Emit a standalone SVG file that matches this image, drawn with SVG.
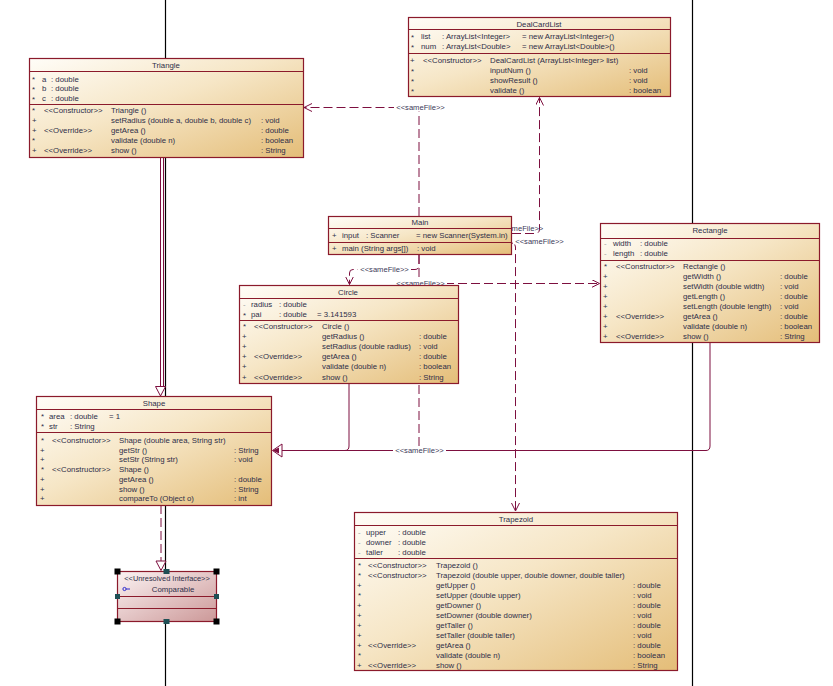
<svg xmlns="http://www.w3.org/2000/svg" width="833" height="686" viewBox="0 0 833 686">
<defs>
<linearGradient id="g" x1="0" y1="0" x2="1" y2="1">
<stop offset="0" stop-color="#fffdf8"/>
<stop offset="0.45" stop-color="#f6e6c6"/>
<stop offset="1" stop-color="#e4bd78"/>
</linearGradient>
<linearGradient id="gp" x1="0" y1="0" x2="1" y2="1">
<stop offset="0" stop-color="#fbf3f3"/>
<stop offset="1" stop-color="#cc9898"/>
</linearGradient>
<marker id="dep" markerWidth="10" markerHeight="10" refX="8" refY="4" orient="auto" markerUnits="userSpaceOnUse">
<path d="M0,0 L8,4 L0,8" fill="none" stroke="#7d0f3f" stroke-width="1"/>
</marker>
<style>
text{font-family:"Liberation Sans",Arial,sans-serif;font-size:7.8px;fill:#2e2e48}
.ttl{text-anchor:middle}
.pv{fill:#a0a0a0}
.box{fill:url(#g);stroke:#8b1a2b;stroke-width:1.2}
.sep{stroke:#8b1a2b;stroke-width:1}
.c{fill:none;stroke:#7d0f3f;stroke-width:1}
.d{stroke-dasharray:9 4}
.gen{fill:#fff;stroke:#7d0f3f;stroke-width:1}
.lb{fill:#fff}
.lt{text-anchor:middle;font-size:7.6px;fill:#3a3a58}
.guide{stroke:#000;stroke-width:1.2}
.h{fill:#000}
.hm{fill:#1f4f55}
</style>
</defs>

<g id="guides">
<line class="guide" x1="165.5" y1="0" x2="165.5" y2="686"/>
<line class="guide" x1="692.5" y1="0" x2="692.5" y2="686"/>
</g>

<g id="connectors">
<!-- Triangle -> Shape generalization -->
<line class="c" x1="160.5" y1="157" x2="160.5" y2="387"/>
<line class="c" x1="163.5" y1="157" x2="163.5" y2="387"/>
<polygon class="gen" points="155.5,386.5 165.5,386.5 160.5,396"/>
<!-- Shape -> Comparable realization -->
<line class="c d" x1="161" y1="505" x2="161" y2="561"/>
<polygon class="gen" points="156,561 166,561 161,570.5"/>
<!-- Circle / Rectangle -> Shape generalization -->
<path class="c" d="M349,383 V446 Q349,450.5 345,450.5 H282"/>
<path class="c" d="M710,342 V446 Q710,450.5 706,450.5 H282"/>
<polygon class="gen" points="282,444 282,457 272.5,450.5"/>
<path d="M279,447.5 L272.5,450.5 L279,453.5 Z" fill="#7d0f3f"/>
<!-- Main -> Shape dependency -->
<line class="c d" x1="419" y1="255" x2="419" y2="446"/>
<rect class="lb" x="393" y="446.5" width="53" height="8"/>
<text class="lt" x="419.5" y="453.2">&lt;&lt;sameFile&gt;&gt;</text>
<!-- Main -> Triangle -->
<path class="c d" d="M419,216 V107.5 H304" marker-end="url(#dep)"/>
<rect class="lb" x="394" y="103.5" width="53" height="8"/>
<text class="lt" x="420.5" y="110.2">&lt;&lt;sameFile&gt;&gt;</text>
<!-- Main -> Circle -->
<path class="c d" d="M419,255 V265 Q419,269.5 415,269.5 H353 Q349.5,269.5 349.5,273 V284.5" marker-end="url(#dep)"/>
<rect class="lb" x="358" y="265.5" width="53" height="8"/>
<text class="lt" x="384.5" y="272.2">&lt;&lt;sameFile&gt;&gt;</text>
<!-- Main -> Rectangle -->
<path class="c d" d="M419,283.5 H599.5" marker-end="url(#dep)"/>
<rect class="lb" x="394" y="279" width="53" height="6"/>
<text class="lt" x="420.5" y="285.7">&lt;&lt;sameFile&gt;&gt;</text>
<!-- Main -> DealCardList -->
<path class="c d" d="M512,233.5 H535 Q539.5,233.5 539.5,229 V97.5" marker-end="url(#dep)"/>
<text class="lt" x="519" y="230.7">&lt;&lt;sameFile&gt;&gt;</text>
<!-- Main -> Trapezoid -->
<path class="c d" d="M512,243 Q515.5,243 515.5,247 V511" marker-end="url(#dep)"/>
<rect class="lb" x="513" y="237.5" width="53" height="7"/>
<text class="lt" x="539.5" y="244">&lt;&lt;sameFile&gt;&gt;</text>
</g>

<g id="DealCardList">
<rect class="box" x="408.5" y="17.5" width="262" height="79"/>
<line class="sep" x1="408.5" y1="29.5" x2="670.5" y2="29.5"/>
<line class="sep" x1="408.5" y1="53.5" x2="670.5" y2="53.5"/>
<text class="ttl" x="539" y="26.5">DealCardList</text>
<text x="411" y="39.5">*</text><text x="421" y="39">list</text><text x="442" y="39">: ArrayList&lt;Integer&gt;</text><text x="522" y="39">= new ArrayList&lt;Integer&gt;()</text>
<text x="411" y="49.5">*</text><text x="421" y="49">num</text><text x="442" y="49">: ArrayList&lt;Double&gt;</text><text x="522" y="49">= new ArrayList&lt;Double&gt;()</text>
<text x="410" y="63">+</text><text x="423" y="63">&lt;&lt;Constructor&gt;&gt;</text><text x="490" y="63">DealCardList (ArrayList&lt;Integer&gt; list)</text>
<text x="411" y="73.5">*</text><text x="490" y="73">inputNum ()</text><text x="629" y="73">: void</text>
<text x="411" y="83.5">*</text><text x="490" y="83">showResult ()</text><text x="629" y="83">: void</text>
<text x="411" y="93.5">*</text><text x="490" y="93">validate ()</text><text x="629" y="93">: boolean</text>
</g>

<g id="Triangle">
<rect class="box" x="29.5" y="58.5" width="274" height="99"/>
<line class="sep" x1="29.5" y1="71.5" x2="303.5" y2="71.5"/>
<line class="sep" x1="29.5" y1="104.5" x2="303.5" y2="104.5"/>
<text class="ttl" x="166" y="67.5">Triangle</text>
<text x="32" y="82">*</text><text x="42" y="81.5">a</text><text x="51" y="81.5">: double</text>
<text x="32" y="91.5">*</text><text x="42" y="91">b</text><text x="51" y="91">: double</text>
<text x="32" y="101.5">*</text><text x="42" y="101">c</text><text x="51" y="101">: double</text>
<text x="32" y="113">*</text><text x="44" y="112.5">&lt;&lt;Constructor&gt;&gt;</text><text x="111" y="112.5">Triangle ()</text>
<text x="32" y="122.5">+</text><text x="111" y="122.5">setRadius (double a, double b, double c)</text><text x="261" y="122.5">: void</text>
<text x="32" y="132.5">+</text><text x="44" y="132.5">&lt;&lt;Override&gt;&gt;</text><text x="111" y="132.5">getArea ()</text><text x="261" y="132.5">: double</text>
<text x="32" y="143">*</text><text x="111" y="142.5">validate (double n)</text><text x="261" y="142.5">: boolean</text>
<text x="32" y="153">+</text><text x="44" y="153">&lt;&lt;Override&gt;&gt;</text><text x="111" y="153">show ()</text><text x="261" y="153">: String</text>
</g>

<g id="Main">
<rect class="box" x="328.5" y="216.5" width="183" height="38"/>
<line class="sep" x1="328.5" y1="228.5" x2="511.5" y2="228.5"/>
<line class="sep" x1="328.5" y1="242.5" x2="511.5" y2="242.5"/>
<text class="ttl" x="420" y="225">Main</text>
<text x="332" y="238">+</text><text x="342" y="238">input</text><text x="366" y="238">: Scanner</text><text x="416" y="238">= new Scanner(System.in)</text>
<text x="332" y="251">+</text><text x="342" y="251">main (String args[])</text><text x="417" y="251">: void</text>
</g>

<g id="Rectangle">
<rect class="box" x="600.5" y="223.5" width="219" height="119"/>
<line class="sep" x1="600.5" y1="238.5" x2="819.5" y2="238.5"/>
<line class="sep" x1="600.5" y1="260.5" x2="819.5" y2="260.5"/>
<text class="ttl" x="710" y="233">Rectangle</text>
<text class="pv" x="604" y="245.5">-</text><text x="613" y="245.5">width</text><text x="640" y="245.5">: double</text>
<text class="pv" x="604" y="255.5">-</text><text x="613" y="255.5">length</text><text x="640" y="255.5">: double</text>
<text x="604" y="269">*</text><text x="616" y="268.5">&lt;&lt;Constructor&gt;&gt;</text><text x="683" y="268.5">Rectangle ()</text>
<text x="603" y="278.5">+</text><text x="683" y="278.5">getWidth ()</text><text x="780" y="278.5">: double</text>
<text x="603" y="288.5">+</text><text x="683" y="288.5">setWidth (double width)</text><text x="780" y="288.5">: void</text>
<text x="603" y="298.5">+</text><text x="683" y="298.5">getLength ()</text><text x="780" y="298.5">: double</text>
<text x="603" y="308.5">+</text><text x="683" y="308.5">setLength (double length)</text><text x="780" y="308.5">: void</text>
<text x="603" y="318.5">+</text><text x="616" y="318.5">&lt;&lt;Override&gt;&gt;</text><text x="683" y="318.5">getArea ()</text><text x="780" y="318.5">: double</text>
<text x="603" y="328.5">+</text><text x="683" y="328.5">validate (double n)</text><text x="780" y="328.5">: boolean</text>
<text x="603" y="338.5">+</text><text x="616" y="338.5">&lt;&lt;Override&gt;&gt;</text><text x="683" y="338.5">show ()</text><text x="780" y="338.5">: String</text>
</g>

<g id="Circle">
<rect class="box" x="239.5" y="285.5" width="219" height="98"/>
<line class="sep" x1="239.5" y1="298.5" x2="458.5" y2="298.5"/>
<line class="sep" x1="239.5" y1="320.5" x2="458.5" y2="320.5"/>
<text class="ttl" x="348" y="294.5">Circle</text>
<text class="pv" x="243" y="307">-</text><text x="251" y="307">radius</text><text x="279" y="307">: double</text>
<text x="243" y="317.5">*</text><text x="251" y="317">pai</text><text x="279" y="317">: double</text><text x="317" y="317">= 3.141593</text>
<text x="243" y="329">*</text><text x="254" y="328.5">&lt;&lt;Constructor&gt;&gt;</text><text x="322" y="328.5">Circle ()</text>
<text x="242" y="339">+</text><text x="322" y="339">getRadius ()</text><text x="419" y="339">: double</text>
<text x="242" y="349">+</text><text x="322" y="349">setRadius (double radius)</text><text x="419" y="349">: void</text>
<text x="242" y="359">+</text><text x="254" y="359">&lt;&lt;Override&gt;&gt;</text><text x="322" y="359">getArea ()</text><text x="419" y="359">: double</text>
<text x="242" y="369">+</text><text x="322" y="369">validate (double n)</text><text x="419" y="369">: boolean</text>
<text x="242" y="379.5">+</text><text x="254" y="379.5">&lt;&lt;Override&gt;&gt;</text><text x="322" y="379.5">show ()</text><text x="419" y="379.5">: String</text>
</g>

<g id="Shape">
<rect class="box" x="36.5" y="396.5" width="235" height="109"/>
<line class="sep" x1="36.5" y1="409.5" x2="271.5" y2="409.5"/>
<line class="sep" x1="36.5" y1="432.5" x2="271.5" y2="432.5"/>
<text class="ttl" x="154" y="406">Shape</text>
<text x="41" y="419">*</text><text x="49" y="418.5">area</text><text x="70" y="418.5">: double</text><text x="109" y="418.5">= 1</text>
<text x="41" y="429">*</text><text x="49" y="428.5">str</text><text x="70" y="428.5">: String</text>
<text x="41" y="443">*</text><text x="52" y="442.5">&lt;&lt;Constructor&gt;&gt;</text><text x="119" y="442.5">Shape (double area, String str)</text>
<text x="40" y="452.5">+</text><text x="119" y="452.5">getStr ()</text><text x="234" y="452.5">: String</text>
<text x="40" y="462">+</text><text x="119" y="462">setStr (String str)</text><text x="234" y="462">: void</text>
<text x="41" y="472">*</text><text x="52" y="471.5">&lt;&lt;Constructor&gt;&gt;</text><text x="119" y="471.5">Shape ()</text>
<text x="40" y="481.5">+</text><text x="119" y="481.5">getArea ()</text><text x="234" y="481.5">: double</text>
<text x="40" y="491.5">+</text><text x="119" y="491.5">show ()</text><text x="234" y="491.5">: String</text>
<text x="40" y="501">+</text><text x="119" y="501">compareTo (Object o)</text><text x="234" y="501">: int</text>
</g>

<g id="Trapezoid">
<rect class="box" x="354.5" y="512.5" width="323" height="158"/>
<line class="sep" x1="354.5" y1="525.5" x2="677.5" y2="525.5"/>
<line class="sep" x1="354.5" y1="558.5" x2="677.5" y2="558.5"/>
<text class="ttl" x="516" y="522">Trapezoid</text>
<text class="pv" x="358" y="534.5">-</text><text x="366" y="534.5">upper</text><text x="398" y="534.5">: double</text>
<text class="pv" x="358" y="544.5">-</text><text x="366" y="544.5">downer</text><text x="398" y="544.5">: double</text>
<text class="pv" x="358" y="554.5">-</text><text x="366" y="554.5">taller</text><text x="398" y="554.5">: double</text>
<text x="358" y="568">*</text><text x="368" y="567.5">&lt;&lt;Constructor&gt;&gt;</text><text x="436" y="567.5">Trapezoid ()</text>
<text x="358" y="578">*</text><text x="368" y="577.5">&lt;&lt;Constructor&gt;&gt;</text><text x="436" y="577.5">Trapezoid (double upper, double downer, double taller)</text>
<text x="357" y="587.5">+</text><text x="436" y="587.5">getUpper ()</text><text x="633" y="587.5">: double</text>
<text x="358" y="598">*</text><text x="436" y="597.5">setUpper (double upper)</text><text x="633" y="597.5">: void</text>
<text x="357" y="607.5">+</text><text x="436" y="607.5">getDowner ()</text><text x="633" y="607.5">: double</text>
<text x="357" y="617.5">+</text><text x="436" y="617.5">setDowner (double downer)</text><text x="633" y="617.5">: void</text>
<text x="357" y="627.5">+</text><text x="436" y="627.5">getTaller ()</text><text x="633" y="627.5">: double</text>
<text x="357" y="637.5">+</text><text x="436" y="637.5">setTaller (double taller)</text><text x="633" y="637.5">: void</text>
<text x="357" y="647.5">+</text><text x="368" y="647.5">&lt;&lt;Override&gt;&gt;</text><text x="436" y="647.5">getArea ()</text><text x="633" y="647.5">: double</text>
<text x="358" y="658">*</text><text x="436" y="657.5">validate (double n)</text><text x="633" y="657.5">: boolean</text>
<text x="357" y="667.5">+</text><text x="368" y="667.5">&lt;&lt;Override&gt;&gt;</text><text x="436" y="667.5">show ()</text><text x="633" y="667.5">: String</text>
</g>

<g id="Comparable">
<rect x="117.5" y="571.5" width="99" height="50" fill="url(#gp)" stroke="#8b1a2b" stroke-width="1.2"/>
<line class="sep" x1="117.5" y1="596.5" x2="216.5" y2="596.5"/>
<line class="sep" x1="117.5" y1="608.5" x2="216.5" y2="608.5"/>
<text class="ttl" x="167" y="580.5" style="font-size:7.4px">&lt;&lt;Unresolved Interface&gt;&gt;</text>
<circle cx="124.5" cy="589" r="1.6" fill="none" stroke="#1a1acc" stroke-width="0.9"/>
<line x1="126" y1="589" x2="130" y2="589" stroke="#1a1acc" stroke-width="0.9"/>
<text class="ttl" x="173" y="591.5">Comparable</text>
<rect class="h" x="114.5" y="568.5" width="6" height="6"/>
<rect class="h" x="213.5" y="568.5" width="6" height="6"/>
<rect class="h" x="114.5" y="618.5" width="6" height="6"/>
<rect class="h" x="213.5" y="618.5" width="6" height="6"/>
<rect class="hm" x="163.5" y="569" width="6" height="5"/>
<rect class="hm" x="163.5" y="619" width="6" height="5"/>
<rect class="hm" x="115" y="594" width="5" height="5"/>
<rect class="hm" x="214" y="594" width="5" height="5"/>
</g>
</svg>
